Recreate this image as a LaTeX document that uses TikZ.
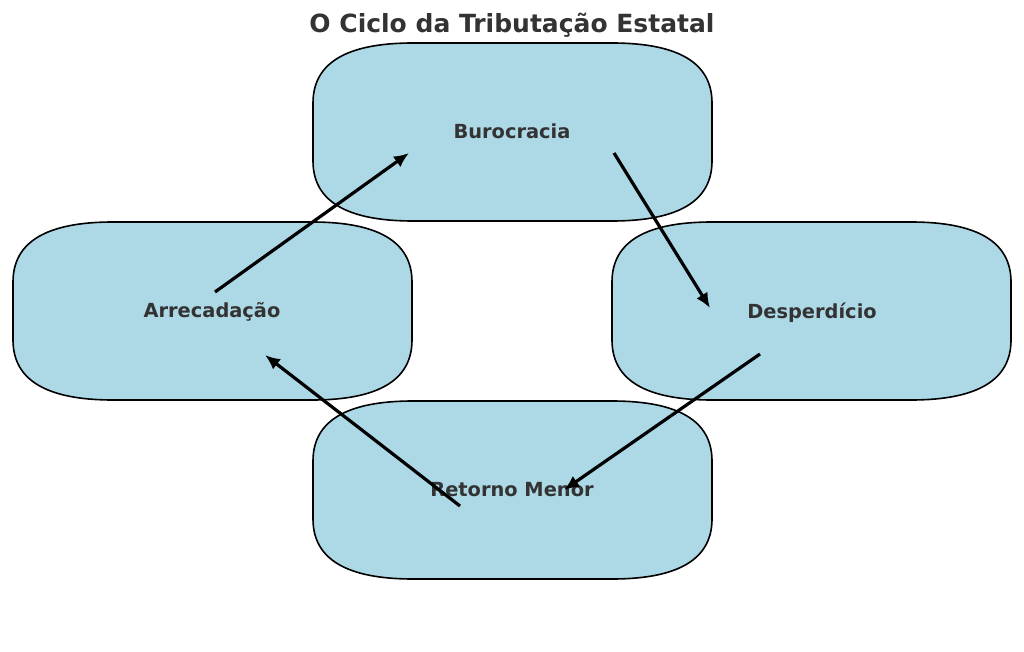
\documentclass[tikz,border=0pt]{standalone}
\usepackage{fontspec}
\setmainfont{DejaVu Sans}
\usetikzlibrary{arrows.meta}
\definecolor{boxfill}{HTML}{ADD8E6}
\definecolor{txt}{HTML}{333333}
\newcommand\myrbox[2]{%
  \begin{scope}[shift={(#1,#2)}]
    \path[boxshape] (100,0) -- (299,0)
      .. controls (365.67,0) and (399,20) .. (399,60)
      -- (399,118)
      .. controls (399,158) and (365.67,178) .. (299,178)
      -- (100,178)
      .. controls (33.33,178) and (0,158) .. (0,118)
      -- (0,60)
      .. controls (0,20) and (33.33,0) .. (100,0) -- cycle;
  \end{scope}}
\begin{document}
\begin{tikzpicture}[x=1pt,y=-1pt,
  boxshape/.style={fill=boxfill,draw=black,line width=1.6pt},
  lbl/.style={anchor=base,text=txt,font=\bfseries\fontsize{19.4}{23}\selectfont,inner sep=0pt},
  ttl/.style={anchor=base,text=txt,font=\bfseries\fontsize{25}{30}\selectfont,inner sep=0pt},
  flow/.style={line width=3.2pt,-{Latex[length=15pt,width=13pt]}}]
\useasboundingbox (0,0) rectangle (1024,652);
\fill[white] (0,0) rectangle (1024,652);
\node[ttl] (title) at (512,33) {O Ciclo da Tributação Estatal};
\myrbox{313}{43}
\myrbox{612}{222}
\myrbox{313}{401}
\myrbox{13}{222}
\node[lbl] (buro) at (512,139) {Burocracia};
\node[lbl] (desp) at (812,318) {Desperdício};
\node[lbl] (reto) at (512,496) {Retorno Menor};
\node[lbl] (arre) at (212,317) {Arrecadação};
\coordinate (a1s) at (215,292);
\coordinate (a1e) at (409,153);
\coordinate (a2s) at (614,153);
\coordinate (a2e) at (710,308);
\coordinate (a3s) at (760,354);
\coordinate (a3e) at (564,490);
\coordinate (a4s) at (460,506);
\coordinate (a4e) at (265,355);
\draw[flow] (a1s) -- (a1e);
\draw[flow] (a2s) -- (a2e);
\draw[flow] (a3s) -- (a3e);
\draw[flow] (a4s) -- (a4e);
\end{tikzpicture}
\end{document}
